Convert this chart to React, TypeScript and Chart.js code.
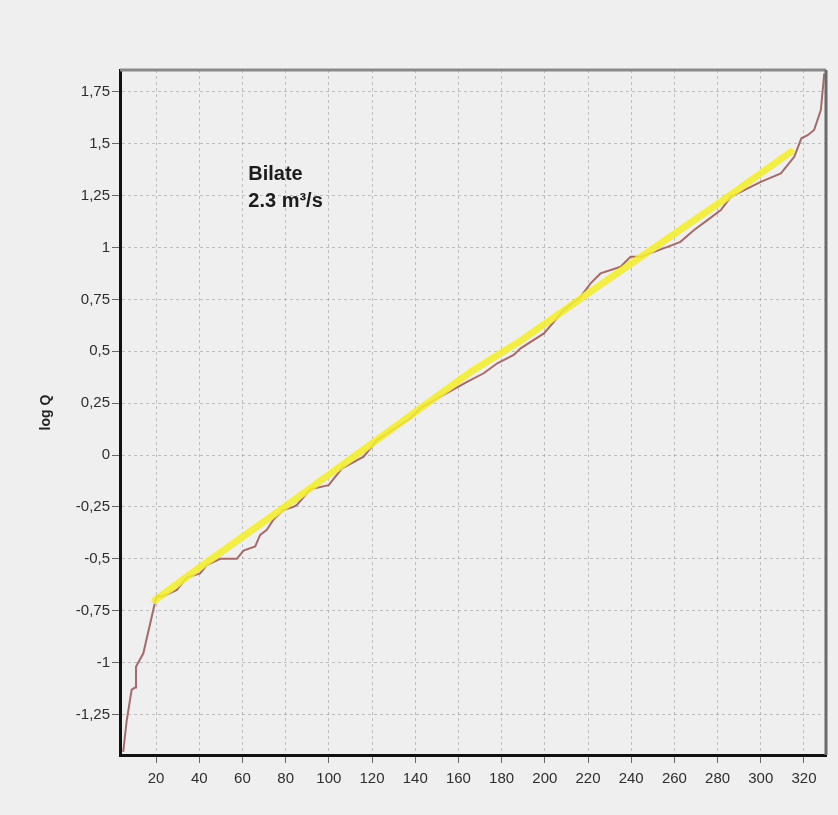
import { useEffect, useRef } from 'react';
import { Chart, registerables } from 'chart.js';

Chart.register(...registerables);

// Observed (sorted) log Q series
const OBS_X = [4.8, 6.4, 8.7, 10.3, 10.7, 14.1, 19.5, 20.3, 23.4, 29.6, 34.2, 40.4, 43.5, 49.7, 57.4, 60.5, 65.9, 68.2, 71.3, 74.4, 79, 83.7, 85.2, 91.4, 99.9, 106.1, 116.1, 122.3, 127, 137.8, 142.4, 151.7, 164, 171.7, 178, 185.6, 188.8, 199.6, 208.8, 216.6, 221.2, 225.8, 235.1, 239.7, 244.4, 256.8, 262.8, 269.1, 275.3, 281.5, 286.1, 300, 309.3, 315.5, 318.8, 321.7, 324.7, 327.8, 329.4];
const OBS_Y = [-1.43, -1.28, -1.13, -1.12, -1.02, -0.955, -0.71, -0.68, -0.68, -0.65, -0.59, -0.57, -0.53, -0.5, -0.5, -0.46, -0.44, -0.385, -0.36, -0.31, -0.265, -0.25, -0.24, -0.165, -0.145, -0.064, -0.008, 0.072, 0.104, 0.177, 0.225, 0.281, 0.353, 0.394, 0.442, 0.482, 0.514, 0.586, 0.698, 0.763, 0.827, 0.875, 0.907, 0.955, 0.955, 1.003, 1.027, 1.084, 1.132, 1.18, 1.244, 1.316, 1.357, 1.437, 1.526, 1.541, 1.566, 1.662, 1.839];

// Fitted (yellow) line
const FIT_X = [19.5, 40.4, 77.5, 91.4, 142.4, 166.4, 188.8, 225.8, 281.5, 313.9];
const FIT_Y = [-0.7, -0.54, -0.265, -0.16, 0.225, 0.405, 0.55, 0.82, 1.22, 1.46];

const X_TICKS = [20, 40, 60, 80, 100, 120, 140, 160, 180, 200, 220, 240, 260, 280, 300, 320];
const Y_TICKS = [-1.25, -1, -0.75, -0.5, -0.25, 0, 0.25, 0.5, 0.75, 1, 1.25, 1.5, 1.75];
const X_MIN = 3.3;
const X_MAX = 330.2;
const Y_MIN = -1.445;
const Y_MAX = 1.855;

const AXIS_TITLE = 'log Q';
const NOTE_LINES = ['Bilate', '2.3 m³/s'];
const NOTE_X = 62.7;
const NOTE_Y = 1.325;

const FONT = "'Liberation Sans', Arial, sans-serif";

export default function App() {
  const ref = useRef<HTMLCanvasElement>(null);

  useEffect(() => {
    const framePlugin = {
      id: 'frame',
      beforeDraw(chart: any) {
        const { ctx, width, height } = chart;
        ctx.save();
        ctx.fillStyle = '#efefef';
        ctx.fillRect(0, 0, width, height);
        ctx.restore();
      },
      afterDraw(chart: any) {
        const { ctx, chartArea: a } = chart;
        ctx.save();
        ctx.setLineDash([]);
        ctx.lineWidth = 3;
        ctx.strokeStyle = '#8a8a8a';
        ctx.beginPath();
        ctx.moveTo(a.left, a.top);
        ctx.lineTo(a.right, a.top);
        ctx.stroke();
        ctx.strokeStyle = '#6a6a6a';
        ctx.beginPath();
        ctx.moveTo(a.right, a.top);
        ctx.lineTo(a.right, a.bottom);
        ctx.stroke();

        // annotation
        const sx = chart.scales.x;
        const sy = chart.scales.y;
        const nx = sx.getPixelForValue(NOTE_X);
        const ny = sy.getPixelForValue(NOTE_Y);
        ctx.fillStyle = '#1c1c1c';
        ctx.font = `bold 20px ${FONT}`;
        ctx.textAlign = 'left';
        ctx.textBaseline = 'alphabetic';
        NOTE_LINES.forEach((t, i) => ctx.fillText(t, nx, ny + i * 27));

        // y axis title
        ctx.translate(46, (a.top + a.bottom) / 2);
        ctx.rotate(-Math.PI / 2);
        ctx.font = `bold 14px ${FONT}`;
        ctx.textAlign = 'center';
        ctx.textBaseline = 'middle';
        ctx.fillStyle = '#222';
        ctx.fillText(AXIS_TITLE, 0, 0);
        ctx.restore();
      },
    };

    const gridCommon = {
      color: 'rgba(130,130,130,0.45)',
      lineWidth: 1,
      tickLength: 8,
      tickColor: '#666',
      tickBorderDash: [],
      drawTicks: true,
    };

    const chart = new Chart(ref.current!, {
      type: 'line',
      data: {
        datasets: [
          {
            label: 'fit',
            data: FIT_X.map((x, i) => ({ x, y: FIT_Y[i] })),
            borderColor: 'rgba(244,238,45,0.88)',
            borderWidth: 7,
            borderCapStyle: 'round',
            pointRadius: 0,
            tension: 0,
            order: 1,
          },
          {
            label: 'obs',
            data: OBS_X.map((x, i) => ({ x, y: OBS_Y[i] })),
            borderColor: '#a56a6a',
            borderWidth: 2,
            pointRadius: 0,
            tension: 0,
            order: 2,
          },
        ],
      },
      options: {
        animation: false,
        responsive: true,
        maintainAspectRatio: false,
        layout: { padding: { top: 70, right: 12, left: 0, bottom: 0 } },
        plugins: { legend: { display: false }, tooltip: { enabled: false } },
        scales: {
          x: {
            type: 'linear',
            min: X_MIN,
            max: X_MAX,
            afterBuildTicks: (s: any) => {
              s.ticks = X_TICKS.map((v) => ({ value: v }));
            },
            afterFit: (s: any) => {
              s.height = 60;
            },
            grid: gridCommon,
            border: { color: '#111', width: 3, dash: [3, 3] },
            ticks: {
              font: { family: FONT, size: 15 },
              color: '#2e2e2e',
              padding: 7,
              maxRotation: 0,
              autoSkip: false,
            },
          },
          y: {
            type: 'linear',
            min: Y_MIN,
            max: Y_MAX,
            afterBuildTicks: (s: any) => {
              s.ticks = Y_TICKS.map((v) => ({ value: v }));
            },
            afterFit: (s: any) => {
              s.width = 120;
            },
            grid: gridCommon,
            border: { color: '#111', width: 3, dash: [3, 3] },
            ticks: {
              font: { family: FONT, size: 15 },
              color: '#2e2e2e',
              padding: 2,
              autoSkip: false,
              callback: (v: any) => String(v).replace('.', ','),
            },
          },
        },
      },
      plugins: [framePlugin],
    } as any);
    return () => chart.destroy();
  }, []);

  return (
    <div style={{ position: 'absolute', left: 0, top: 0, width: 838, height: 815, background: '#efefef' }}>
      <canvas ref={ref} />
    </div>
  );
}
